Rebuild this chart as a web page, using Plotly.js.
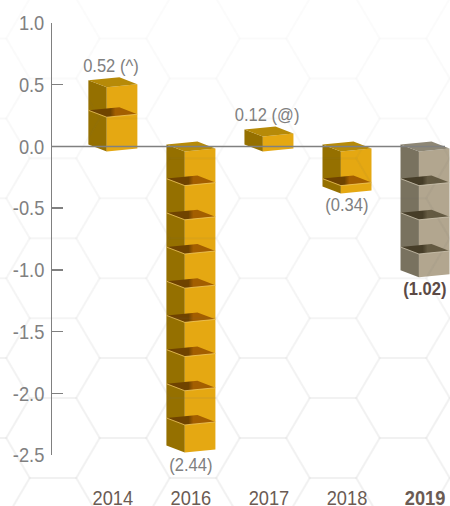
<!DOCTYPE html>
<html>
<head>
<meta charset="utf-8">
<script src="https://cdn.plot.ly/plotly-3.0.1.min.js"></script>
<style>html,body{margin:0;padding:0;background:#fff}</style>
</head>
<body>
<div id="chart" style="width:450px;height:506px"></div>
<script>
// Annual values, drawn as stacked 3D blocks
const years = ['2014', '2016', '2017', '2018', '2019'];
const values = [0.52, -2.44, 0.12, -0.34, -1.02];
const valueLabels = ['0.52 (^)', '(2.44)', '0.12 (@)', '(0.34)', '(1.02)'];
const yTickValues = [1.0, 0.5, 0.0, -0.5, -1.0, -1.5, -2.0, -2.5];
const yTickLabels = ['1.0', '0.5', '0.0', '-0.5', '-1.0', '-1.5', '-2.0', '-2.5'];
const highlightYear = '2019';

const FONT = '"Liberation Sans", Arial, sans-serif';
const TEXT_SQUEEZE = 0.87;   // condensed look for all chart text
const W = 450, H = 506;
const M = {l: 52, r: 0, t: 22.5, b: 51};
const plotW = W - M.l - M.r, plotH = H - M.t - M.b;
const yRange = [-2.5, 1.0], xRange = [-0.78, 4.32];
const xUnit = plotW / (xRange[1] - xRange[0]);
const yUnit = plotH / (yRange[1] - yRange[0]);

// Projection of a block's square footprint, in pixels around its centre
const foot = {
  left:  {dx: -24.5, dy:  2},
  back:  {dx:   6.5, dy:  5},
  right: {dx:  24.5, dy: -2},
  front: {dx:  -6.1, dy: -5}
};
const CUBE = 0.277;   // height of one stacked block

const gold = {front: '#e5a812', side: '#957000', top: '#b68a08', shelfA: '#6f4300', shelfB: '#a35e00', edge: '#f0c860'};
const stone = {front: '#b2a68f', side: '#79725f', top: '#8e8775', shelfA: '#463d28', shelfB: '#645a42', edge: '#cfc6b2'};

function pt(i, v, corner) {
  const c = foot[corner];
  return [i + c.dx / xUnit, v + c.dy / yUnit];
}
function poly(points, fill, extra) {
  return Object.assign({
    type: 'scatter', mode: 'lines', hoverinfo: 'skip', showlegend: false,
    x: points.map(p => p[0]), y: points.map(p => p[1]),
    fill: 'toself', fillcolor: fill, line: {width: 0, color: fill}
  }, extra || {});
}

const traces = [];
values.forEach((v, i) => {
  const pal = years[i] === highlightYear ? stone : gold;
  const hi = Math.max(v, 0), lo = Math.min(v, 0);
  // Side and front faces
  traces.push(poly([pt(i, hi, 'left'), pt(i, hi, 'front'), pt(i, lo, 'front'), pt(i, lo, 'left'), pt(i, hi, 'left')], pal.side));
  traces.push(poly([pt(i, hi, 'front'), pt(i, hi, 'right'), pt(i, lo, 'right'), pt(i, lo, 'front'), pt(i, hi, 'front')], pal.front));
  // Lid
  traces.push(poly([pt(i, hi, 'left'), pt(i, hi, 'back'), pt(i, hi, 'right'), pt(i, hi, 'front'), pt(i, hi, 'left')], pal.top));
  // Dark floor between neighbouring blocks
  const span = hi - lo;
  for (let k = 1; k * CUBE < span; k++) {
    const s = v >= 0 ? lo + k * CUBE : hi - k * CUBE;
    const pts = [pt(i, s, 'left'), pt(i, s, 'back'), pt(i, s, 'right'), pt(i, s, 'front'), pt(i, s, 'left')];
    traces.push(poly(pts, pal.shelfB, {
      fillgradient: {type: 'horizontal', colorscale: [[0, pal.shelfA], [0.45, pal.shelfA], [0.55, pal.shelfB], [1, pal.shelfB]]}
    }));
    traces.push({
      type: 'scatter', mode: 'lines', hoverinfo: 'skip', showlegend: false,
      x: [pt(i, s, 'left')[0], pt(i, s, 'front')[0], pt(i, s, 'right')[0]],
      y: [pt(i, s, 'left')[1], pt(i, s, 'front')[1], pt(i, s, 'right')[1]],
      line: {color: pal.edge, width: 0.8}
    });
  }
});

// Honeycomb backdrop, fading toward the top of the page
const shapes = [];
const HEX_R = 47, HEX_H = 40;
const px = x => (x - M.l) / plotW, py = y => (H - M.b - y) / plotH;
for (let c = -2; c < 8; c++) {
  for (let r = -2; r < 9; r++) {
    const cx = 53 + 70 * c, cy = 438 + (c % 2 ? -40 : 0) - 80 * r;
    if (cx < -60 || cx > 510 || cy < -50 || cy > 560) continue;
    const v = [[-HEX_R, 0], [-23.5, -HEX_H], [23.5, -HEX_H], [HEX_R, 0], [23.5, HEX_H], [-23.5, HEX_H]]
      .map(d => [px(cx + d[0]), py(cy + d[1])]);
    const alpha = 0.012 + 0.038 * Math.min(1, Math.max(0, cy / 420));
    shapes.push({
      type: 'path', xref: 'paper', yref: 'paper', layer: 'above',
      path: 'M' + v.map(p => p[0].toFixed(4) + ',' + p[1].toFixed(4)).join('L') + 'Z',
      line: {color: 'rgba(110,110,110,' + alpha.toFixed(3) + ')', width: 2}
    });
  }
}
// Baseline at zero runs over the blocks
shapes.push({type: 'line', xref: 'paper', yref: 'y', x0: 0, x1: (445 - M.l) / plotW, y0: 0, y1: 0, layer: 'above',
  line: {color: '#808080', width: 1.5}});

const annotations = values.map((v, i) => {
  const strong = years[i] === highlightYear;
  return {
    x: i, y: v, xref: 'x', yref: 'y', text: strong ? '<b>' + valueLabels[i] + '</b>' : valueLabels[i],
    showarrow: false, xanchor: 'center', yanchor: 'middle',
    xshift: v >= 0 ? -2 : 0,
    yshift: v >= 0 ? 17 : -16.5,
    font: {family: FONT, size: 19, color: strong ? '#5c4a45' : '#808080'}
  };
});

Plotly.newPlot('chart', traces, {
  width: W, height: H, margin: M, autosize: false,
  paper_bgcolor: '#fff', plot_bgcolor: 'rgba(0,0,0,0)', showlegend: false,
  xaxis: {
    range: xRange, tickmode: 'array', tickvals: years.map((_, i) => i),
    ticktext: years.map(y => y === highlightYear ? '<b>' + y + '</b>' : y),
    showgrid: false, zeroline: false, showline: false, ticks: '', ticklabelstandoff: 28,
    tickfont: {family: FONT, size: 21, color: '#6b5b53'}
  },
  yaxis: {
    range: yRange, tickmode: 'array', tickvals: yTickValues, ticktext: yTickLabels,
    showgrid: false, zeroline: false, showline: true, linecolor: '#808080', linewidth: 1.5,
    ticks: 'inside', ticklen: 11, tickcolor: '#808080', tickwidth: 1.5,
    tickfont: {family: FONT, size: 21, color: '#808080'}
  },
  shapes, annotations
}, {displayModeBar: false, staticPlot: true}).then(gd => {
  // Narrow every label without changing its font size
  gd.querySelectorAll('.xtick text, .ytick text, .annotation-text').forEach(t => {
    t.setAttribute('lengthAdjust', 'spacingAndGlyphs');
    t.setAttribute('textLength', (t.getComputedTextLength() * TEXT_SQUEEZE).toFixed(1));
  });
  // Leave a little more air between the y labels and the axis
  gd.querySelectorAll('.ytick text').forEach(t => t.setAttribute('dx', '-2'));
});
</script>
</body>
</html>
